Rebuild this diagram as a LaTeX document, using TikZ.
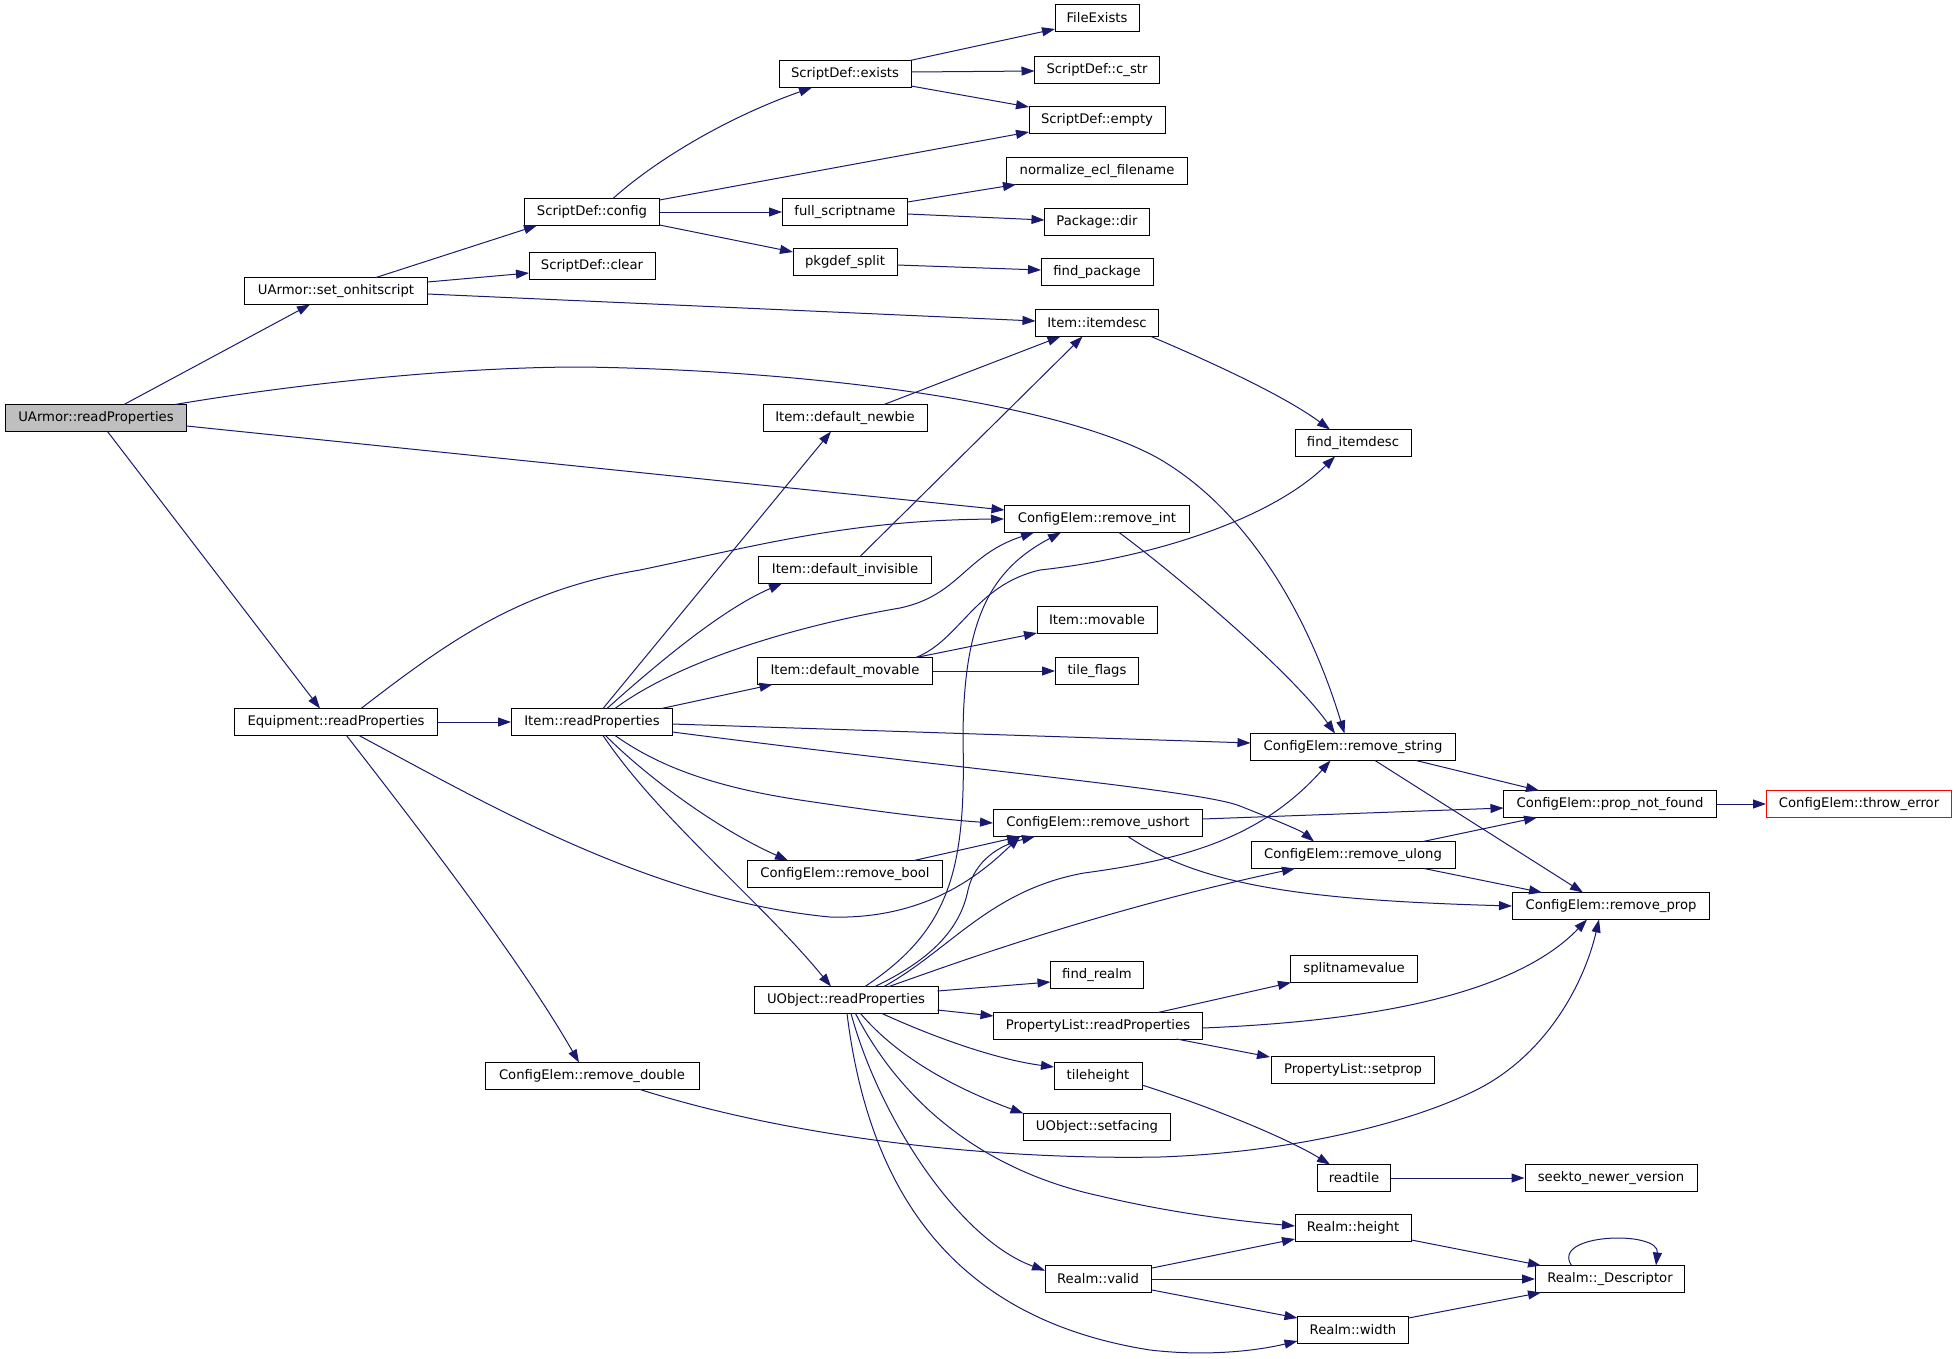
\documentclass[tikz,border=0pt]{standalone}
\usepackage{fontspec}
\setmainfont{DejaVu Sans}
\usetikzlibrary{calc,arrows.meta}
\definecolor{navy}{HTML}{191970}
\definecolor{nodegray}{HTML}{BFBFBF}
\newcommand\nd[6][]{\node[box,minimum width=#5pt,#1] (#2) at (#3,#4) {#6};}
\begin{document}
\begin{tikzpicture}[x=1pt,y=-1pt,
  box/.style={draw=black,line width=1pt,fill=white,minimum height=27pt,inner sep=0pt,font=\fontsize{13.2}{16}\selectfont},
  cl/.style={draw=navy,line width=1pt,-{Triangle[length=13pt,width=9pt]}}]
\useasboundingbox (0,0) rectangle (1957,1358);
% nodes
\nd[fill=nodegray]{U}{96}{418}{181}{UArmor::readProperties}
\nd{S}{336}{291}{183}{UArmor::set\_onhitscript}
\nd{C}{592}{212}{135}{ScriptDef::config}
\nd{CL}{592}{266}{126}{ScriptDef::clear}
\nd{EX}{845}{74}{132}{ScriptDef::exists}
\nd{FE}{1097}{18}{84}{FileExists}
\nd{CS}{1097}{70}{125}{ScriptDef::c\_str}
\nd{EM}{1097}{120}{136}{ScriptDef::empty}
\nd{NO}{1097}{171}{181}{normalize\_ecl\_filename}
\nd{FS}{845}{212}{125}{full\_scriptname}
\nd{PD}{1097}{222}{105}{Package::dir}
\nd{PK}{845}{262}{104}{pkgdef\_split}
\nd{FP}{1097}{272}{112}{find\_package}
\nd{ID}{1097}{323}{123}{Item::itemdesc}
\nd{FI}{1353}{443}{116}{find\_itemdesc}
\nd{DN}{845}{418}{164}{Item::default\_newbie}
\nd{RI}{1097}{519}{185}{ConfigElem::remove\_int}
\nd{DI}{845}{570}{173}{Item::default\_invisible}
\nd{IM}{1097}{620}{120}{Item::movable}
\nd{TF}{1097}{671}{83}{tile\_flags}
\nd{DM}{845}{671}{175}{Item::default\_movable}
\nd{EQ}{336}{722}{203}{Equipment::readProperties}
\nd{IR}{592}{722}{161}{Item::readProperties}
\nd{RS}{1353}{747}{205}{ConfigElem::remove\_string}
\nd{PN}{1610}{804}{213}{ConfigElem::prop\_not\_found}
\nd[draw=red]{TE}{1859}{804}{185}{ConfigElem::throw\_error}
\nd{RU}{1098}{823}{209}{ConfigElem::remove\_ushort}
\nd{RL}{1353}{855}{204}{ConfigElem::remove\_ulong}
\nd{RB}{845}{874}{195}{ConfigElem::remove\_bool}
\nd{RP}{1611}{906}{197}{ConfigElem::remove\_prop}
\nd{FR}{1097}{975}{93}{find\_realm}
\nd{SN}{1354}{969}{127}{splitnamevalue}
\nd{OR}{846}{1000}{184}{UObject::readProperties}
\nd{PL}{1098}{1026}{209}{PropertyList::readProperties}
\nd{SP}{1353}{1070}{163}{PropertyList::setprop}
\nd{RD}{592}{1076}{214}{ConfigElem::remove\_double}
\nd{TH}{1098}{1076}{88}{tileheight}
\nd{SF}{1097}{1127}{147}{UObject::setfacing}
\nd{RT}{1354}{1178}{73}{readtile}
\nd{SK}{1611}{1178}{172}{seekto\_newer\_version}
\nd{RH}{1353}{1228}{116}{Realm::height}
\nd{RV}{1098}{1279}{106}{Realm::valid}
\nd{DE}{1610}{1279}{149}{Realm::\_Descriptor}
\nd{RW}{1353}{1330}{111}{Realm::width}
% edges
\draw[cl] ($(U)+(28,-13.5)$) -- ($(S)+(-26,13.5)$);
\draw[cl] ($(U)+(79,-13.5)$) .. controls (290,385) and (450,367) .. (582,367) .. controls (800,370) and (1050,400) .. (1156,457) .. controls (1250,510) and (1310,620) .. ($(RS)+(-8.5,-13.5)$);
\draw[cl] ($(U)+(90.5,8)$) -- ($(RI)+(-92.5,-9)$);
\draw[cl] ($(U)+(11.5,13.5)$) -- ($(EQ)+(-16,-13.5)$);
\draw[cl] ($(S)+(40,-13.5)$) -- ($(C)+(-55,13.5)$);
\draw[cl] ($(S)+(91.5,-9)$) -- ($(CL)+(-63,7)$);
\draw[cl] ($(S)+(91.5,3)$) -- ($(ID)+(-61.5,-2)$);
\draw[cl] ($(C)+(21,-13.5)$) .. controls (650,165) and (720,120) .. ($(EX)+(-33,13.5)$);
\draw[cl] ($(C)+(67.5,-12)$) -- ($(EM)+(-68,12)$);
\draw[cl] (C.east) -- (FS.west);
\draw[cl] ($(C)+(67.5,13)$) -- ($(PK)+(-52,-10)$);
\draw[cl] ($(EX)+(65,-13.5)$) -- ($(FE)+(-42,11)$);
\draw[cl] ($(EX)+(66,-2)$) -- ($(CS)+(-62.5,1)$);
\draw[cl] ($(EX)+(66,12)$) -- ($(EM)+(-68,-13)$);
\draw[cl] ($(FS)+(62.5,-10)$) -- ($(NO)+(-81,13.5)$);
\draw[cl] ($(FS)+(62.5,2)$) -- ($(PD)+(-52.5,-2)$);
\draw[cl] ($(PK)+(52,3)$) -- ($(FP)+(-56,-2)$);
\draw[cl] ($(ID)+(54,13.5)$) .. controls (1230,370) and (1290,400) .. ($(FI)+(-23,-13.5)$);
\draw[cl] ($(DN)+(39,-13.5)$) -- ($(ID)+(-36.5,13.5)$);
\draw[cl] ($(DI)+(15,-13.5)$) -- ($(ID)+(-14.5,13.5)$);
\draw[cl] ($(RI)+(22,13.5)$) .. controls (1170,570) and (1290,670) .. ($(RS)+(-18,-13.5)$);
\draw[cl] ($(DM)+(71,-13.5)$) -- ($(IM)+(-60,13)$);
\draw[cl] (DM.east) -- (TF.west);
\draw[cl] ($(DM)+(71,-13.5)$) .. controls (960,640) and (975,585) .. (1040,570) .. controls (1150,558) and (1270,520) .. ($(FI)+(-18,13.5)$);
\draw[cl] ($(EQ)+(25,-13.5)$) .. controls (450,640) and (520,590) .. (640,570) .. controls (760,545) and (850,520) .. (RI.west);
\draw[cl] (EQ.east) -- (IR.west);
\draw[cl] ($(EQ)+(23,13.5)$) .. controls (480,800) and (650,900) .. (830,917) .. controls (930,920) and (985,870) .. ($(RU)+(-78,13.5)$);
\draw[cl] ($(EQ)+(10.5,13.5)$) .. controls (420,830) and (520,960) .. ($(RD)+(-13,-13.5)$);
\draw[cl] ($(IR)+(11,-13.5)$) -- ($(DN)+(-14,13.5)$);
\draw[cl] ($(IR)+(15,-13.5)$) .. controls (650,670) and (720,610) .. ($(DI)+(-63,13.5)$);
\draw[cl] ($(IR)+(23,-13.5)$) .. controls (680,660) and (800,625) .. (900,608) .. controls (960,595) and (965,555) .. ($(RI)+(-63,13.5)$);
\draw[cl] ($(IR)+(69.5,-13.5)$) -- ($(DM)+(-72.5,13.5)$);
\draw[cl] ($(IR)+(80.5,2)$) -- ($(RS)+(-102.5,-4)$);
\draw[cl] ($(IR)+(80.5,10)$) .. controls (950,768) and (1200,790) .. (1240,806) .. controls (1270,818) and (1300,830) .. ($(RL)+(-39,-13.5)$);
\draw[cl] ($(IR)+(23,13.5)$) .. controls (650,760) and (700,785) .. (800,800) .. controls (900,815) and (950,820) .. (RU.west);
\draw[cl] ($(IR)+(13.5,13.5)$) .. controls (650,780) and (720,830) .. ($(RB)+(-57,-13.5)$);
\draw[cl] ($(IR)+(11,13.5)$) .. controls (660,820) and (760,900) .. ($(OR)+(-15,-13.5)$);
\draw[cl] ($(RB)+(69,-13.5)$) -- ($(RU)+(-78,13.5)$);
\draw[cl] ($(RU)+(104.5,-4)$) -- ($(PN)+(-106.5,4)$);
\draw[cl] ($(RU)+(30,13.5)$) .. controls (1200,885) and (1300,900) .. (RP.west);
\draw[cl] ($(RS)+(63,13.5)$) -- ($(PN)+(-71,-13.5)$);
\draw[cl] ($(RS)+(22,13.5)$) -- ($(RP)+(-28,-13.5)$);
\draw[cl] ($(RL)+(70,-13.5)$) -- ($(PN)+(-73,13.5)$);
\draw[cl] ($(RL)+(71,13.5)$) -- ($(RP)+(-69,-13.5)$);
\draw[cl] (PN.east) -- (TE.west);
\draw[cl] ($(OR)+(19,-13.5)$) .. controls (950,930) and (966,870) .. (963,740) .. controls (963,620) and (990,570) .. ($(RI)+(-36,13.5)$);
\draw[cl] ($(OR)+(29,-13.5)$) .. controls (930,960) and (960,930) .. (968,890) .. controls (975,860) and (1000,845) .. ($(RU)+(-63,13.5)$);
\draw[cl] ($(OR)+(38,-13.5)$) .. controls (950,950) and (990,890) .. (1084,873) .. controls (1180,860) and (1260,840) .. ($(RS)+(-22.5,13.5)$);
\draw[cl] ($(OR)+(43,-13.5)$) .. controls (950,965) and (1100,910) .. ($(RL)+(-58,13.5)$);
\draw[cl] ($(OR)+(91.5,-9)$) -- ($(FR)+(-46.5,7)$);
\draw[cl] ($(OR)+(91.5,10)$) -- ($(PL)+(-104.5,-10)$);
\draw[cl] ($(OR)+(36,13.5)$) .. controls (940,1040) and (1000,1060) .. ($(TH)+(-44,-9)$);
\draw[cl] ($(OR)+(14.5,13.5)$) .. controls (900,1060) and (960,1090) .. ($(SF)+(-73.5,-13.5)$);
\draw[cl] ($(OR)+(9.5,13.5)$) .. controls (900,1100) and (980,1170) .. (1100,1196) .. controls (1180,1215) and (1250,1222) .. ($(RH)+(-58,-2)$);
\draw[cl] ($(OR)+(5,13.5)$) .. controls (880,1120) and (960,1240) .. ($(RV)+(-53,-8.5)$);
\draw[cl] ($(OR)+(1,13.5)$) .. controls (870,1200) and (960,1320) .. (1150,1350) .. controls (1210,1357) and (1260,1350) .. ($(RW)+(-55.5,11)$);
\draw[cl] ($(PL)+(60,-13.5)$) -- ($(SN)+(-63,13.5)$);
\draw[cl] ($(PL)+(104.5,2)$) .. controls (1350,1022) and (1510,1000) .. ($(RP)+(-24,13.5)$);
\draw[cl] ($(PL)+(78.5,13)$) -- ($(SP)+(-83,-13)$);
\draw[cl] ($(TH)+(44,9)$) .. controls (1220,1110) and (1290,1140) .. ($(RT)+(-24,-13.5)$);
\draw[cl] (RT.east) -- (SK.west);
\draw[cl] ($(RD)+(48,13.5)$) .. controls (800,1140) and (1000,1160) .. (1160,1157) .. controls (1300,1152) and (1420,1120) .. (1482,1087) .. controls (1550,1050) and (1585,980) .. ($(RP)+(-12,13.5)$);
\draw[cl] ($(RV)+(54,-11)$) -- ($(RH)+(-58,11)$);
\draw[cl] (RV.east) -- (DE.west);
\draw[cl] ($(RV)+(54,11)$) -- ($(RW)+(-55.5,-12)$);
\draw[cl] ($(RH)+(58.5,12)$) -- ($(DE)+(-69,-13.5)$);
\draw[cl] ($(RW)+(55.5,-12)$) -- ($(DE)+(-69,13.5)$);
\draw[cl] ($(DE)+(-38.5,-13.5)$) .. controls (1550,1233) and (1660,1230) .. ($(DE)+(46,-13.5)$);
\end{tikzpicture}
\end{document}
